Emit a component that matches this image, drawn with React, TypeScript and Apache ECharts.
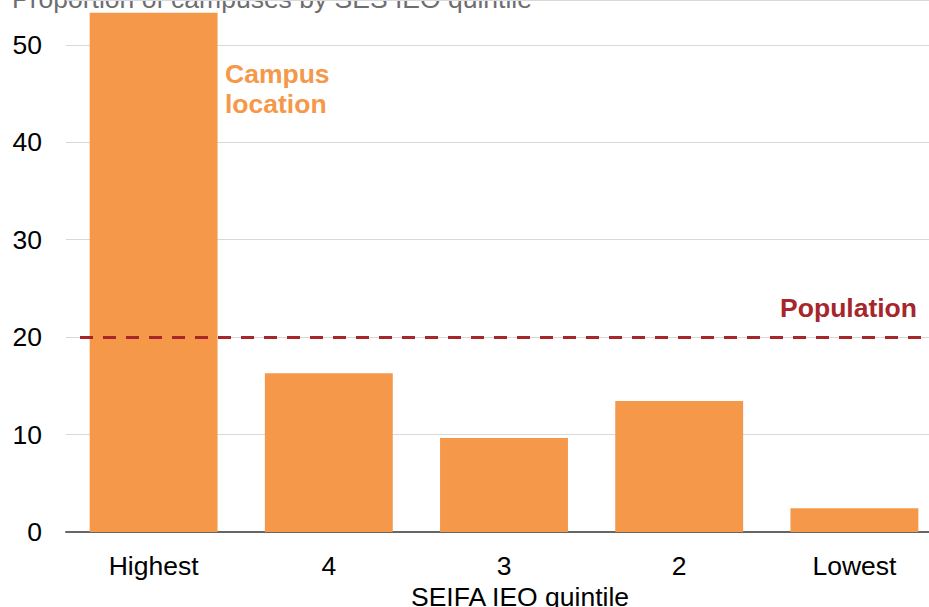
import React, { useEffect, useRef } from "react";
import * as echarts from "echarts";

const categories = ["Highest", "4", "3", "2", "Lowest"];
const campusShare = [53.3, 16.3, 9.65, 13.45, 2.45];
const populationShare = 20;
const yTicks = [0, 10, 20, 30, 40, 50];

const title = "Proportion of campuses by SES IEO quintile";
const xName = "SEIFA IEO quintile";
const campusLabel = "Campus\nlocation";
const popLabel = "Population";

const ORANGE = "#f5984a";
const RED = "#a6262c";
const FS = 26.5;
const FF = "Liberation Sans, Arial";

export default function App() {
  const ref = useRef<HTMLDivElement>(null);
  useEffect(() => {
    if (!ref.current) return;
    const chart = echarts.init(ref.current, null, { renderer: "svg" });
    chart.setOption({
      animation: false,
      grid: { left: 66, width: 876, top: 0, height: 532, outerBoundsMode: "none", containLabel: false },
      xAxis: {
        type: "category",
        data: categories,
        axisLine: { lineStyle: { color: "#666", width: 2 } },
        axisTick: { show: false },
        axisLabel: { color: "#000", fontSize: FS, fontFamily: FF, margin: 20 },
      },
      yAxis: {
        type: "value",
        min: 0,
        max: 54.6,
        interval: 10,
        axisLine: { show: false },
        axisTick: { show: false },
        splitLine: { lineStyle: { color: "#d9d9d9", width: 1 } },
        axisLabel: {
          color: "#000",
          fontSize: FS,
          fontFamily: FF,
          margin: 24,
          showMaxLabel: false,
          formatter: (v: number) => (yTicks.includes(v) ? String(v) : ""),
        },
      },
      series: [
        {
          type: "bar",
          data: campusShare,
          barWidth: "73%",
          itemStyle: { color: ORANGE },
          markLine: {
            symbol: "none",
            silent: true,
            label: { show: false },
            lineStyle: { color: RED, width: 3, type: [13, 10] },
            data: [[{ x: 80, yAxis: populationShare }, { x: 929, yAxis: populationShare }]],
            z: 10,
          },
        },
      ],
      graphic: [
        {
          type: "text",
          left: 12,
          top: -15,
          style: { text: title, fill: "#6d6e71", fontSize: FS, fontFamily: FF },
        },
        {
          type: "text",
          x: 225,
          y: 59,
          style: {
            text: campusLabel,
            fill: ORANGE,
            fontSize: FS,
            fontWeight: "bold",
            lineHeight: 30,
            fontFamily: FF,
          },
        },
        {
          type: "text",
          x: 917,
          y: 308,
          style: {
            text: popLabel,
            fill: RED,
            fontSize: FS,
            fontWeight: "bold",
            align: "right",
            verticalAlign: "middle",
            fontFamily: FF,
          },
        },
        {
          type: "text",
          x: 520,
          y: 597,
          style: {
            text: xName,
            fill: "#000",
            fontSize: FS,
            align: "center",
            verticalAlign: "middle",
            fontFamily: FF,
          },
        },
      ],
    });
    return () => chart.dispose();
  }, []);
  return <div ref={ref} style={{ width: 929, height: 607, position: "absolute", left: 0, top: 0 }} />;
}
